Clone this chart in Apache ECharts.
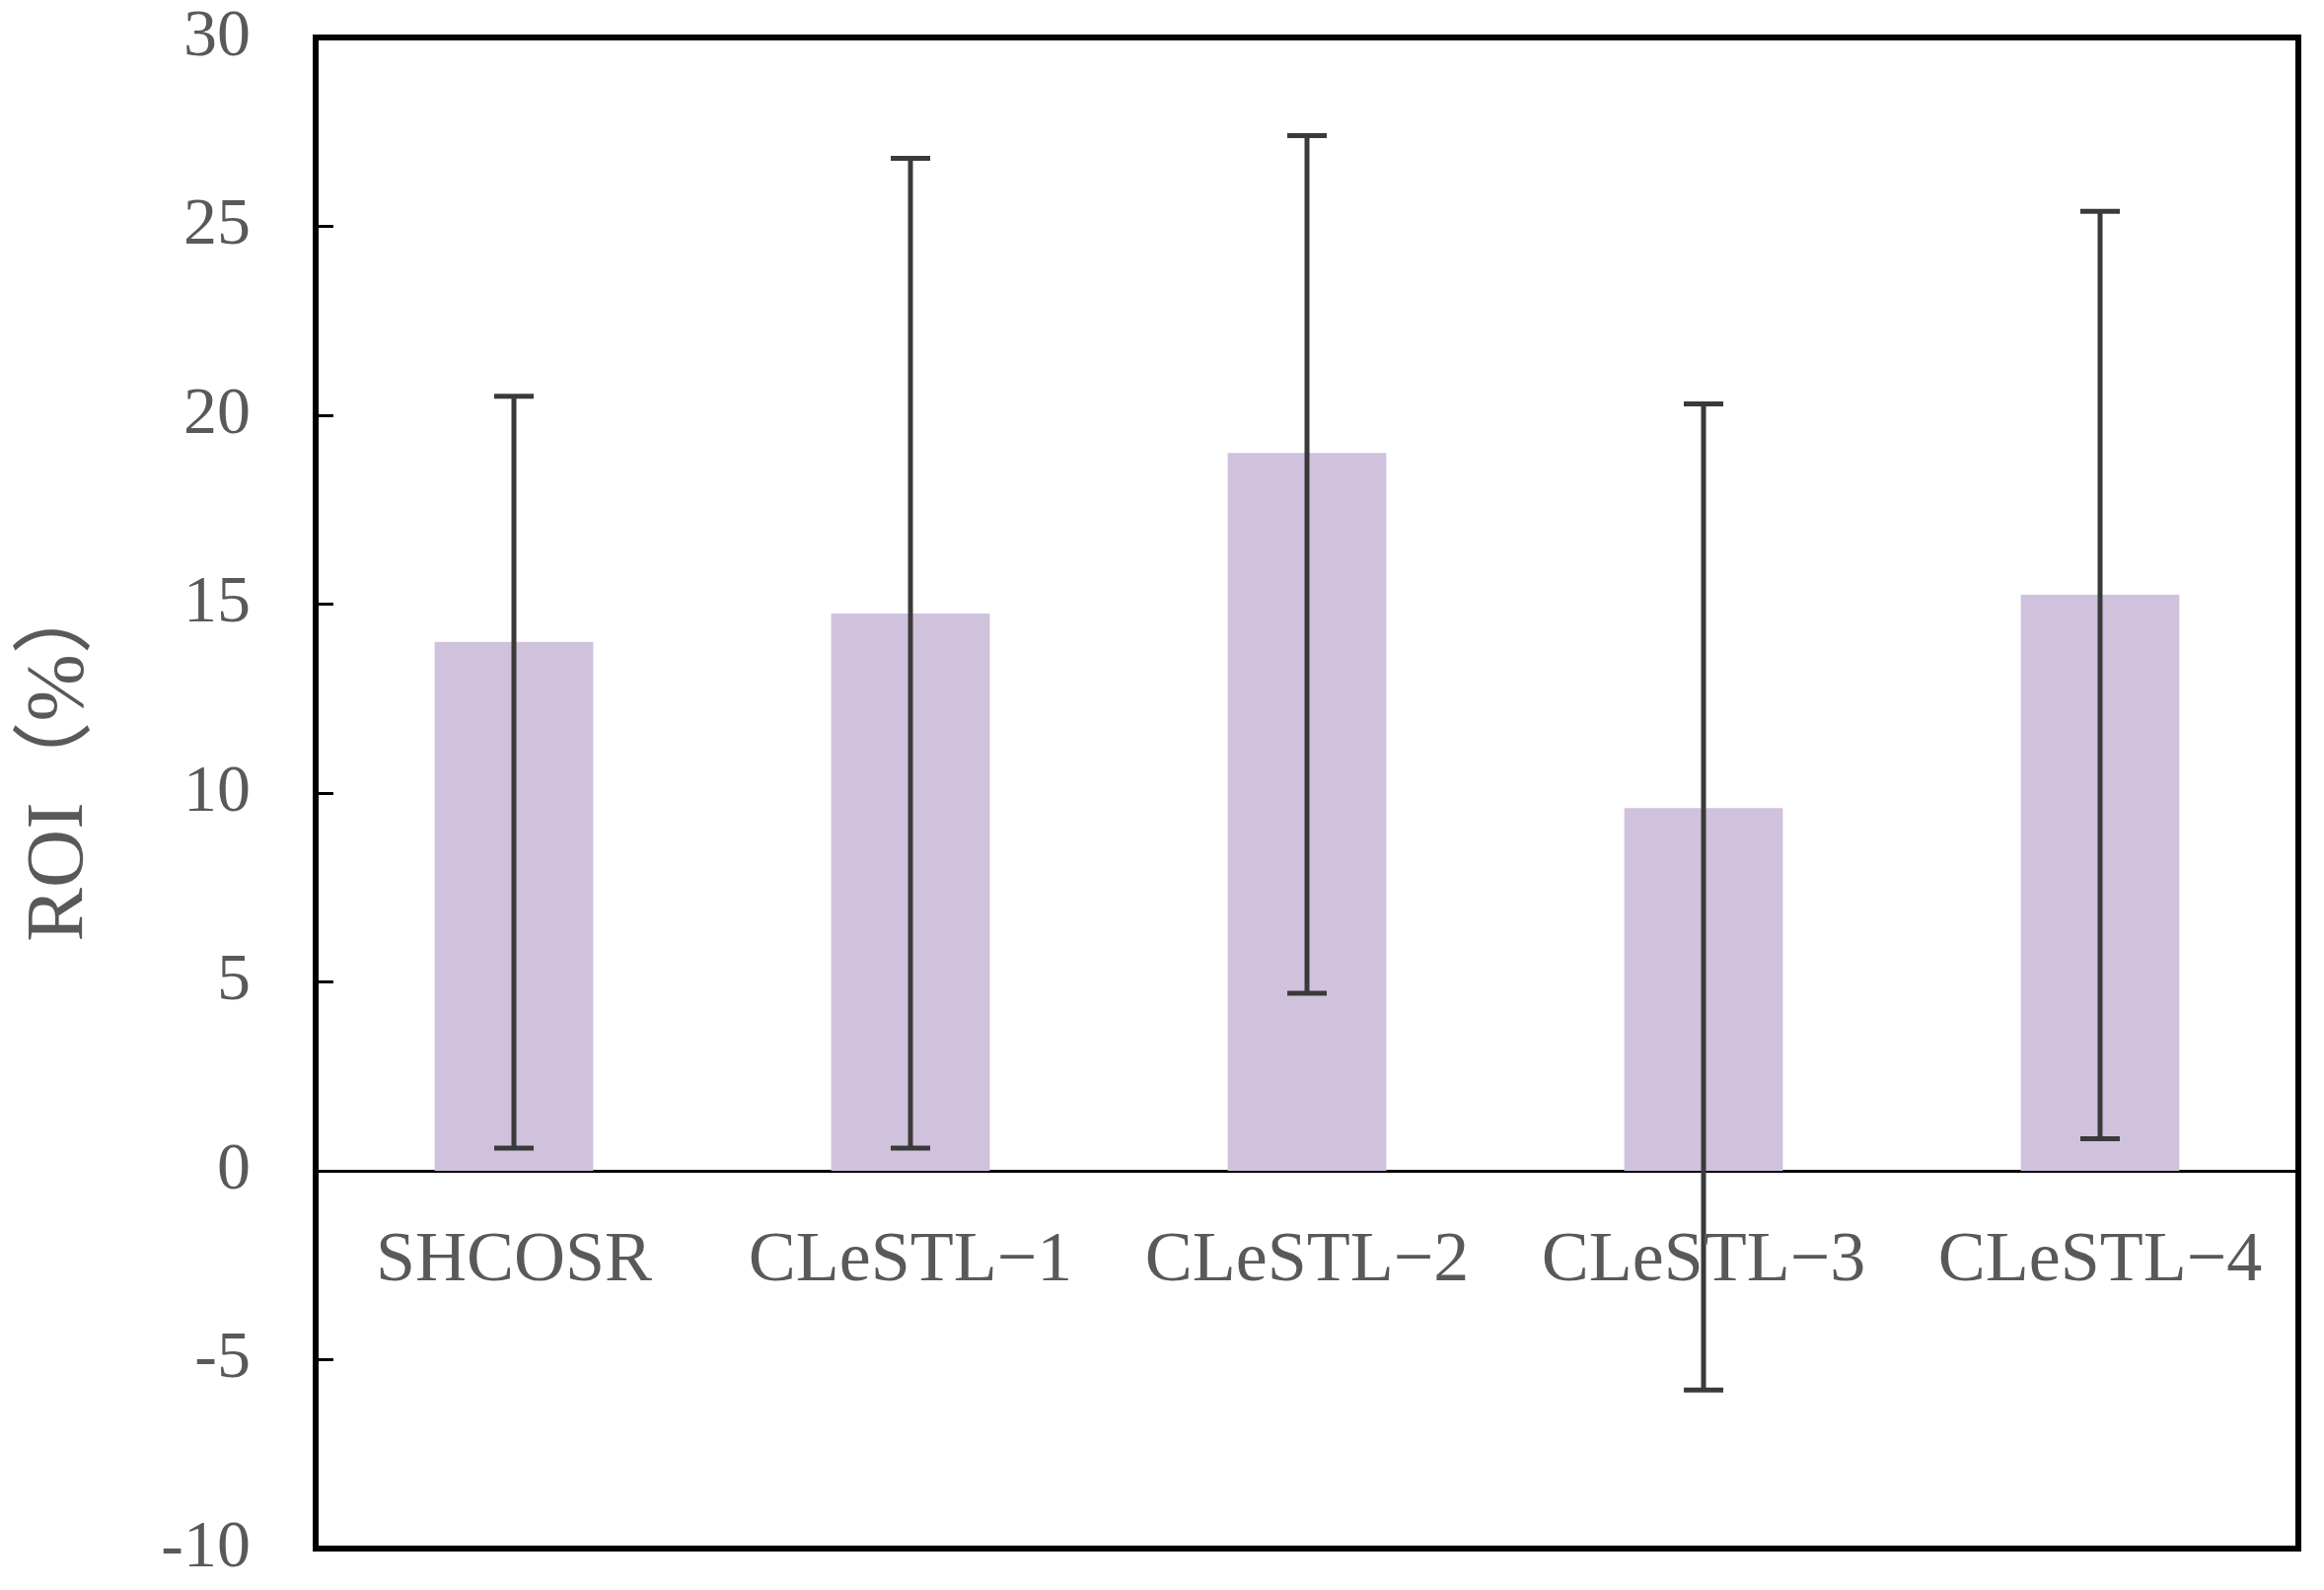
<!DOCTYPE html>
<html>
<head>
<meta charset="utf-8">
<script src="https://cdn.jsdelivr.net/npm/echarts@6/dist/echarts.min.js"></script>
<style>
html,body{margin:0;padding:0;background:#fff;}
#main{width:2356px;height:1612px;}
</style>
</head>
<body>
<div id="main"></div>
<script>
const categories = ['SHCOSR', 'CLeSTL\u22121', 'CLeSTL\u22122', 'CLeSTL\u22123', 'CLeSTL\u22124'];
const roiValues = [14.0, 14.75, 19.0, 9.6, 15.25];
const errLow = [0.6, 0.6, 4.7, -5.8, 0.85];
const errHigh = [20.5, 26.8, 27.4, 20.3, 25.4];
const yTicks = { min: -10, max: 30, interval: 5 };

const serif = "'Liberation Serif', 'Times New Roman', 'Noto Sans CJK SC', serif";
const chart = echarts.init(document.getElementById('main'));

const errData = categories.map((c, i) => [i, errLow[i], errHigh[i]]);
const labelData = categories.map((c, i) => [i, 0]);

chart.setOption({
  animation: false,
  backgroundColor: '#ffffff',
  grid: {
    left: 320, right: 26, top: 38, bottom: 42,
    containLabel: false,
    outerBoundsMode: 'none',
    show: true, borderColor: '#000', borderWidth: 6, backgroundColor: 'transparent'
  },
  xAxis: {
    type: 'category',
    data: categories,
    axisLine: { onZero: true, lineStyle: { color: '#000', width: 3 } },
    axisTick: { show: false },
    axisLabel: { show: false },
    splitLine: { show: false }
  },
  yAxis: {
    type: 'value',
    min: yTicks.min, max: yTicks.max, interval: yTicks.interval,
    name: 'ROI\uFF08%\uFF09',
    nameLocation: 'middle',
    nameGap: 218,
    nameTextStyle: { fontFamily: serif, fontSize: 82, color: '#595959', padding: [0, 0, 0, 72] },
    axisLine: { show: true, onZero: false, lineStyle: { color: '#000', width: 6 } },
    axisTick: { show: true, inside: true, length: 18, lineStyle: { color: '#000', width: 3 } },
    axisLabel: { fontFamily: serif, fontSize: 68, color: '#595959', margin: 66 },
    splitLine: { show: false }
  },
  series: [
    {
      type: 'bar',
      data: roiValues,
      barWidth: '40%',
      itemStyle: { color: '#D0C2DD' },
      z: 1
    },
    {
      type: 'custom',
      data: errData,
      z: 5,
      renderItem: function (params, api) {
        const x = api.value(0);
        const lo = api.coord([x, api.value(1)]);
        const hi = api.coord([x, api.value(2)]);
        const cap = 20;
        const style = { stroke: '#3a3a3a', lineWidth: 5 };
        return {
          type: 'group',
          children: [
            { type: 'line', shape: { x1: lo[0], y1: lo[1], x2: hi[0], y2: hi[1] }, style: style },
            { type: 'line', shape: { x1: hi[0] - cap, y1: hi[1], x2: hi[0] + cap, y2: hi[1] }, style: style },
            { type: 'line', shape: { x1: lo[0] - cap, y1: lo[1], x2: lo[0] + cap, y2: lo[1] }, style: style }
          ]
        };
      }
    },
    {
      type: 'custom',
      data: labelData,
      z: 6,
      clip: false,
      renderItem: function (params, api) {
        const p = api.coord([api.value(0), api.value(1)]);
        return {
          type: 'text',
          x: p[0],
          y: p[1] + 92,
          style: {
            text: categories[params.dataIndex],
            fontFamily: serif,
            fontSize: 72,
            fill: '#595959',
            align: 'center',
            verticalAlign: 'middle'
          }
        };
      }
    }
  ]
});
</script>
</body>
</html>
